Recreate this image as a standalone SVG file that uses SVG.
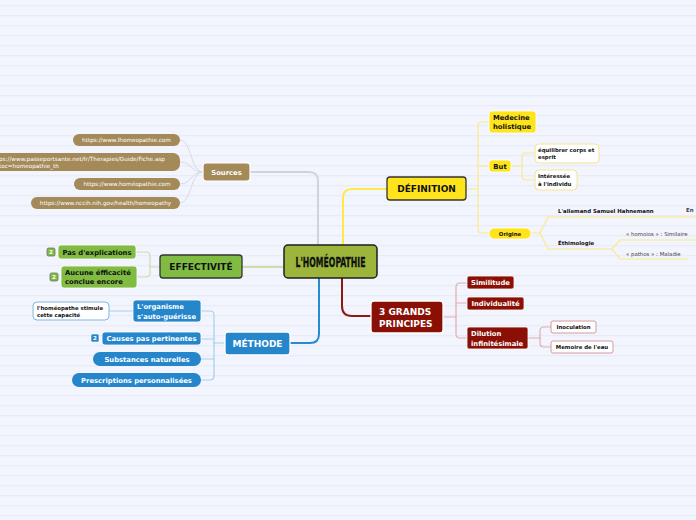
<svg xmlns="http://www.w3.org/2000/svg" width="696" height="520" viewBox="0 0 696 520">
<defs>
<pattern id="lines" patternUnits="userSpaceOnUse" x="0" y="0" width="696" height="10">
<rect x="0" y="0" width="696" height="10" fill="#f3f5fe"/>
<rect x="0" y="5.3" width="696" height="0.9" fill="#e6e8f2"/>
</pattern>
<style>
.t{font-family:"DejaVu Sans",Verdana,sans-serif;font-weight:bold}
.c{text-anchor:middle}
.main{font-size:9px}
.leaf{font-size:6.8px}
.sm{font-size:5.4px}
.url{font-family:"DejaVu Sans",Verdana,sans-serif;font-size:5.7px;fill:#fff}
.w{fill:#fff}
.k{fill:#111}
.conn{fill:none;stroke-linecap:round}
</style>
</defs>
<rect x="0" y="0" width="696" height="520" fill="url(#lines)"/>

<g id="connectors">
<path class="conn" d="M318,245 V181 Q318,172 309,172 H250" stroke="#d2d3d8" stroke-width="2"/>
<path class="conn" d="M343,245 V198 Q343,189 352,189 H387" stroke="#ffe84a" stroke-width="2"/>
<path class="conn" d="M284,267 H242" stroke="#c9e0ab" stroke-width="2"/>
<path class="conn" d="M319,278 V334 Q319,343 310,343 H290" stroke="#2a8ad0" stroke-width="2"/>
<path class="conn" d="M342,278 V306 Q342,316 352,316 H371" stroke="#8b1a10" stroke-width="2"/>
<g stroke="#d9dae2" stroke-width="1" class="conn">
<path d="M203,172 C190,172 192,140 180,140"/>
<path d="M203,172 C190,172 192,162 180,162"/>
<path d="M203,172 C190,172 192,184 180,184"/>
<path d="M203,172 C190,172 192,203 180,203"/>
</g>
<g stroke="#c9e0ab" stroke-width="1.2" class="conn">
<path d="M160,267 H150 V256 Q150,252 146,252 H136"/>
<path d="M150,266 V273 Q150,277 146,277 H137"/>
</g>
<g stroke="#a9cfec" stroke-width="1.2" class="conn">
<path d="M225,343 H214"/>
<path d="M214,343 V315 Q214,311 210,311 H201"/>
<path d="M214,343 V376 Q214,380 210,380 H201"/>
<path d="M214,339 H201"/>
<path d="M214,359 H201"/>
<path d="M133,311 H109"/>
</g>
<g stroke="#ddb0b0" stroke-width="1.2" class="conn">
<path d="M443,317 H456"/>
<path d="M456,317 V287 Q456,283 460,283 H467"/>
<path d="M456,317 V334 Q456,338 460,338 H467"/>
<path d="M456,303 H467"/>
<path d="M528,338 H540"/>
<path d="M540,338 V331 Q540,327 544,327 H551"/>
<path d="M540,338 V343 Q540,347 544,347 H551"/>
</g>
<g stroke="#fbe98a" stroke-width="1.2" class="conn">
<path d="M466,189 H478"/>
<path d="M478,189 V126 Q478,122 482,122 H489"/>
<path d="M478,189 V229 Q478,233 482,233 H489"/>
<path d="M478,166 H489"/>
<path d="M511,166 H522"/>
<path d="M522,166 V157 Q522,153 526,153 H535"/>
<path d="M522,166 V176 Q522,180 526,180 H535"/>
<path d="M531,233 H540 L548,217 H696"/>
<path d="M540,233 L548,249 H612 L620,240 H696"/>
<path d="M612,249 L620,259 H688"/>
</g>
</g>

<g id="center">
<rect x="284" y="245" width="93" height="33" rx="4" fill="#9cb53a" stroke="#1e1e1e" stroke-width="1.5"/>
<text x="330.5" y="267" class="c" font-family="'DejaVu Sans Condensed','DejaVu Sans',sans-serif" font-weight="bold" font-size="14.5" fill="#111" stroke="#111" stroke-width="0.3" textLength="70" lengthAdjust="spacingAndGlyphs">L'HOMÉOPATHIE</text>
</g>

<g id="definition">
<rect x="387" y="177" width="79" height="23" rx="3" fill="#ffe41c" stroke="#333" stroke-width="1.3"/>
<text x="426.5" y="192.2" class="t c main k">DÉFINITION</text>
</g>
<g id="def-holistique">
<rect x="489" y="111" width="47" height="22" rx="3" fill="#ffe41c" stroke="#fff" stroke-width="0.8"/>
<text x="493" y="120" class="t leaf k">Medecine</text>
<text x="493" y="129" class="t leaf k">holistique</text>
</g>
<g id="def-but">
<rect x="489" y="160" width="22" height="12" rx="3" fill="#ffe41c" stroke="#fff" stroke-width="0.8"/>
<text x="500" y="168.5" class="t c leaf k">But</text>
</g>
<g id="but-equilibrer">
<rect x="535" y="144" width="64" height="19" rx="4" fill="#fff" stroke="#f6e48e" stroke-width="1"/>
<text x="538" y="151.5" class="t sm k">équilibrer corps et</text>
<text x="538" y="158.5" class="t sm k">esprit</text>
</g>
<g id="but-individu">
<rect x="535" y="170" width="42" height="20" rx="4" fill="#fff" stroke="#f6e48e" stroke-width="1"/>
<text x="538" y="178" class="t sm k">Intéressée</text>
<text x="538" y="185.5" class="t sm k">à l'individu</text>
</g>
<g id="def-origine">
<rect x="489" y="228" width="42" height="11" rx="5.5" fill="#ffe41c" stroke="#fff" stroke-width="0.8"/>
<text x="510" y="235.8" class="t c sm k">Origine</text>
</g>
<g id="origine-hahnemann">
<text x="558" y="213" class="t sm k">L'allemand Samuel Hahnemann</text>
<text x="686" y="212" class="t sm" fill="#444">En</text>
</g>
<g id="origine-ethimologie">
<text x="558" y="245" class="t sm k">Éthimologie</text>
</g>
<g id="etym-homoios">
<text x="626" y="236" font-family="'DejaVu Sans',sans-serif" font-size="5.4" fill="#444">« homoios » : Similaire</text>
</g>
<g id="etym-pathos">
<text x="626" y="255.5" font-family="'DejaVu Sans',sans-serif" font-size="5.4" fill="#444">« pathos » : Maladie</text>
</g>

<g id="sources">
<rect x="203" y="163" width="47" height="18" rx="3" fill="#a48a58" stroke="#fff" stroke-width="1.2"/>
<text x="226.5" y="174.5" class="t c leaf w">Sources</text>
</g>
<g id="src-1">
<rect x="73" y="134" width="107" height="12" rx="6" fill="#a48a58"/>
<text x="126.5" y="142" class="url c">https://www.lhomeopathie.com</text>
</g>
<g id="src-2">
<rect x="-30" y="153" width="210" height="18" rx="7" fill="#a48a58"/>
<text x="-1" y="160.5" class="url">ps://www.passeportsante.net/fr/Therapies/Guide/Fiche.asp</text>
<text x="-1" y="168" class="url">toc=homeopathie_th</text>
</g>
<g id="src-3">
<rect x="74" y="178" width="106" height="12" rx="6" fill="#a48a58"/>
<text x="127" y="186" class="url c">https://www.homéopathie.com</text>
</g>
<g id="src-4">
<rect x="31" y="197" width="149" height="12" rx="6" fill="#a48a58"/>
<text x="105.5" y="205" class="url c">https://www.nccih.nih.gov/health/homeopathy</text>
</g>

<g id="effectivite">
<rect x="160" y="255" width="82" height="23" rx="3" fill="#7fbc41" stroke="#333" stroke-width="1.3"/>
<text x="201" y="270.2" class="t c main k">EFFECTIVITÉ</text>
</g>
<g id="eff-explications">
<rect x="47" y="248" width="8" height="8" rx="1.5" fill="#7fbc41" stroke="#666" stroke-width="0.7"/>
<text x="51" y="254.3" class="t c" font-size="5.5" fill="#fff">2</text>
<rect x="58" y="245" width="78" height="14" rx="3" fill="#7fbc41" stroke="#fff" stroke-width="0.8"/>
<text x="97" y="254.5" class="t c leaf k">Pas d'explications</text>
</g>
<g id="eff-efficacite">
<rect x="50" y="273" width="8" height="8" rx="1.5" fill="#7fbc41" stroke="#666" stroke-width="0.7"/>
<text x="54" y="279.3" class="t c" font-size="5.5" fill="#fff">2</text>
<rect x="61" y="266" width="76" height="22" rx="3" fill="#7fbc41" stroke="#fff" stroke-width="0.8"/>
<text x="65" y="275" class="t leaf k">Aucune éfficacité</text>
<text x="65" y="284" class="t leaf k">conclue encore</text>
</g>

<g id="methode">
<rect x="225" y="332" width="65" height="23" rx="3" fill="#2586cb" stroke="#fff" stroke-width="1.3"/>
<text x="257.5" y="347.2" class="t c main w">MÉTHODE</text>
</g>
<g id="met-organisme">
<rect x="133" y="300" width="68" height="22" rx="3" fill="#2586cb" stroke="#fff" stroke-width="0.8"/>
<text x="137" y="309" class="t leaf w">L'organisme</text>
<text x="137" y="318.5" class="t leaf w">s'auto-guérisse</text>
</g>
<g id="org-stimule">
<rect x="33" y="302" width="76" height="18" rx="4" fill="#fff" stroke="#7cb8e4" stroke-width="1"/>
<text x="37" y="309.5" class="t sm k">l'homéopathe stimule</text>
<text x="37" y="316.5" class="t sm k">cette capacité</text>
</g>
<g id="met-causes">
<rect x="91" y="334" width="8" height="8" rx="1.5" fill="#2586cb" stroke="#fff" stroke-width="0.6"/>
<text x="95" y="340.3" class="t c" font-size="5.5" fill="#fff">2</text>
<rect x="102" y="332" width="99" height="13" rx="3" fill="#2586cb" stroke="#fff" stroke-width="0.8"/>
<text x="151.5" y="341" class="t c leaf w">Causes pas pertinentes</text>
</g>
<g id="met-substances">
<rect x="93" y="352" width="108" height="14" rx="7" fill="#2586cb"/>
<text x="147" y="361.5" class="t c leaf w">Substances naturelles</text>
</g>
<g id="met-prescriptions">
<rect x="72" y="373" width="129" height="14" rx="7" fill="#2586cb"/>
<text x="136.5" y="382.5" class="t c leaf w">Prescriptions personnalisées</text>
</g>

<g id="principes">
<rect x="371" y="301" width="72" height="32" rx="3" fill="#8a0f05" stroke="#fff" stroke-width="1.3"/>
<text x="379" y="315" class="t main w">3 GRANDS</text>
<text x="379" y="327" class="t main w">PRINCIPES</text>
</g>
<g id="pr-similitude">
<rect x="467" y="276" width="47" height="13" rx="2" fill="#8a0f05" stroke="#fff" stroke-width="0.8"/>
<text x="490.5" y="285" class="t c leaf w">Similitude</text>
</g>
<g id="pr-individualite">
<rect x="467" y="297" width="57" height="13" rx="2" fill="#8a0f05" stroke="#fff" stroke-width="0.8"/>
<text x="495.5" y="306" class="t c leaf w">Individualité</text>
</g>
<g id="pr-dilution">
<rect x="467" y="327" width="61" height="22" rx="2" fill="#8a0f05" stroke="#fff" stroke-width="0.8"/>
<text x="471" y="336" class="t leaf w">Dilution</text>
<text x="471" y="345.5" class="t leaf w">infinitésimale</text>
</g>
<g id="dil-inoculation">
<rect x="551" y="321" width="45" height="12" rx="2" fill="#fff" stroke="#d49a9a" stroke-width="1"/>
<text x="573.5" y="329" class="t c sm k">Inoculation</text>
</g>
<g id="dil-memoire">
<rect x="551" y="341" width="62" height="12" rx="2" fill="#fff" stroke="#d49a9a" stroke-width="1"/>
<text x="582" y="349" class="t c sm k">Memoire de l'eau</text>
</g>
</svg>
